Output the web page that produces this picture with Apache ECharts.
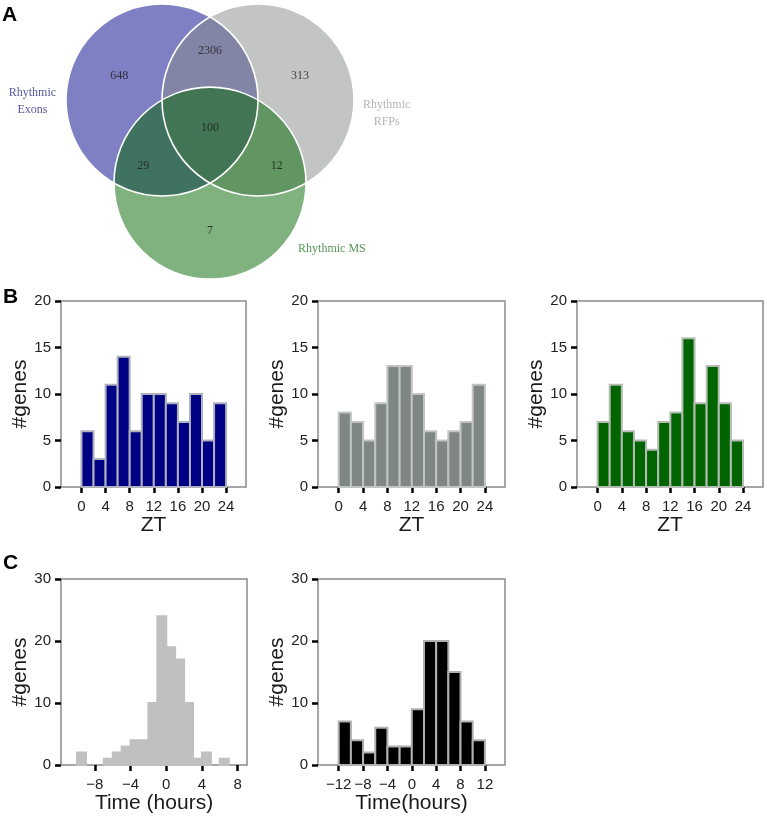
<!DOCTYPE html>
<html>
<head>
<meta charset="utf-8">
<script src="https://cdn.jsdelivr.net/npm/echarts@6/dist/echarts.min.js"></script>
<style>
html, body { margin: 0; padding: 0; background: #fff; }
#chart { width: 767px; height: 817px; }
</style>
</head>
<body>
<div id="chart"></div>
<script>
// ---- data ----
// A: venn of rhythmic sets
const vennSetNames = ['Rhythmic\nExons', 'Rhythmic\nRFPs', 'Rhythmic MS'];
// regions: Exons only, Exons&RFPs, RFPs only, all three, Exons&MS, RFPs&MS, MS only
const vennRegionCounts = [648, 2306, 313, 100, 29, 12, 7];

// B: peak phase histograms (2h bins over ZT)
const ztBinStart = [0, 2, 4, 6, 8, 10, 12, 14, 16, 18, 20, 22];
const ztTicks = [0, 4, 8, 12, 16, 20, 24];
const exonCounts = [6, 3, 11, 14, 6, 10, 10, 9, 7, 10, 5, 9];
const rfpCounts = [8, 7, 5, 9, 13, 13, 10, 6, 5, 6, 7, 11];
const msCounts = [7, 11, 6, 5, 4, 7, 8, 16, 9, 13, 9, 5];

// C left: phase difference, 1h bins
const lagBinStart = [-10, -9, -8, -7, -6, -5, -4, -3, -2, -1, 0, 1, 2, 3, 4, 5, 6];
const lagCounts = [2, 0, 0, 1, 2, 3, 4, 4, 10, 24, 19, 17, 10, 1, 2, 0, 1];
const lagTicks = [-8, -4, 0, 4, 8];

// C right: phase difference, 2h bins
const diffBinStart = [-12, -10, -8, -6, -4, -2, 0, 2, 4, 6, 8, 10];
const diffCounts = [7, 4, 2, 6, 3, 3, 9, 20, 20, 15, 7, 4];
const diffTicks = [-12, -8, -4, 0, 4, 8, 12];

// ---- venn layout (diagram units, radius 1) ----
const circleX = [-0.5, 0.5, 0];
const circleY = [0, 0, -0.866];
const circleFill = ['rgba(0,0,136,0.5)', 'rgba(136,140,140,0.5)', 'rgba(0,102,0,0.5)'];
const regionX = [-0.945, 0, 0.937, 0, -0.695, 0.695, 0];
const regionY = [0.253, 0.514, 0.253, -0.288, -0.684, -0.684, -1.365];
const setX = [-1.85, 1.84, 1.27];
const setY = [-0.015, -0.135, -1.55];
const setColor = ['#2c2c8a', '#a3a3a3', '#2a7a2a'];

const axisFont = 'Liberation Sans, Arial, sans-serif';
const minus = v => (v < 0 ? '\u2212' + (-v) : String(v));

const grids = [];
const xAxes = [];
const yAxes = [];
const series = [];

// venn grid, 96px per unit both ways
grids.push({ left: 18, top: 4, width: 384, height: 288, show: false });
xAxes.push({ gridIndex: 0, type: 'value', min: -2, max: 2, show: false });
yAxes.push({ gridIndex: 0, type: 'value', min: -2, max: 1, show: false });

const circleData = circleX.map((x, i) => [x, circleY[i], 1]);
function circleItem(params, api, style) {
    const c = api.coord([api.value(0), api.value(1)]);
    const r = api.size([api.value(2), 0])[0];
    return { type: 'circle', shape: { cx: c[0], cy: c[1], r: r }, style: style };
}
series.push({
    type: 'custom', xAxisIndex: 0, yAxisIndex: 0, silent: true,
    encode: { x: 0, y: 1 },
    data: circleData,
    renderItem: (params, api) => circleItem(params, api, { fill: circleFill[params.dataIndex] })
});
// white outlines drawn on top of all fills
series.push({
    type: 'custom', xAxisIndex: 0, yAxisIndex: 0, silent: true,
    encode: { x: 0, y: 1 },
    data: circleData,
    renderItem: (params, api) => circleItem(params, api, { fill: 'none', stroke: '#ffffff', lineWidth: 1.6 })
});
series.push({
    type: 'scatter', xAxisIndex: 0, yAxisIndex: 0, silent: true,
    symbolSize: 0,
    data: vennRegionCounts.map((n, i) => [regionX[i], regionY[i], n]),
    label: {
        show: true, position: 'inside', formatter: p => String(p.value[2]),
        fontFamily: 'Liberation Serif, Times New Roman, serif', fontSize: 12, color: '#1a1a1a'
    }
});
series.push({
    type: 'scatter', xAxisIndex: 0, yAxisIndex: 0, silent: true,
    symbolSize: 0,
    data: vennSetNames.map((s, i) => ({
        value: [setX[i], setY[i]], name: s,
        label: { color: setColor[i] }
    })),
    label: {
        show: true, position: 'inside', formatter: p => p.name, align: 'center',
        fontFamily: 'Liberation Serif, Times New Roman, serif', fontSize: 12, lineHeight: 17
    }
});

// histogram panels
function addHist(box, xMin, xMax, yMax, yStep, starts, width, counts, ticks, fill, edge, edgeWidth, xName, xNameGap) {
    const gi = grids.length;
    grids.push({
        left: box[0], top: box[1], width: box[2], height: box[3],
        show: true, borderColor: '#8a8a8a', borderWidth: 1.5, backgroundColor: 'transparent'
    });
    xAxes.push({
        gridIndex: gi, type: 'value', min: xMin, max: xMax,
        name: xName, nameLocation: 'middle', nameGap: xNameGap,
        nameTextStyle: { fontFamily: axisFont, fontSize: 21, color: '#1a1a1a' },
        axisLine: { show: false, onZero: false },
        axisTick: { show: true, length: 6, customValues: ticks, lineStyle: { color: '#000', width: 2.5 } },
        axisLabel: {
            customValues: ticks, formatter: minus, margin: 12,
            fontFamily: axisFont, fontSize: 15, color: '#222'
        },
        splitLine: { show: false }
    });
    yAxes.push({
        gridIndex: gi, type: 'value', min: 0, max: yMax, interval: yStep,
        name: '#genes', nameLocation: 'middle', nameGap: 25,
        nameTextStyle: { fontFamily: axisFont, fontSize: 21, color: '#1a1a1a' },
        axisLine: { show: false, onZero: false },
        axisTick: { show: true, length: 6, lineStyle: { color: '#000', width: 2.5 } },
        axisLabel: { margin: 10, fontFamily: axisFont, fontSize: 15, color: '#222' },
        splitLine: { show: false }
    });
    series.push({
        type: 'custom', xAxisIndex: gi, yAxisIndex: gi, silent: true,
        encode: { x: [0, 1], y: 2 },
        data: starts.map((s, i) => [s, s + width, counts[i]]),
        renderItem: (params, api) => {
            if (!api.value(2)) return null;
            const p0 = api.coord([api.value(0), 0]);
            const p1 = api.coord([api.value(1), api.value(2)]);
            return {
                type: 'rect',
                shape: { x: p0[0], y: p1[1], width: p1[0] - p0[0], height: p0[1] - p1[1] },
                style: { fill: fill, stroke: edge, lineWidth: edgeWidth }
            };
        }
    });
}

addHist([61, 301, 185, 186], -3.4, 27.3, 20, 5, ztBinStart, 2, exonCounts, ztTicks, '#000085', '#afb1bd', 2, 'ZT', 27);
addHist([318, 301, 187, 186], -3.4, 27.3, 20, 5, ztBinStart, 2, rfpCounts, ztTicks, '#7f8784', '#c2c4c4', 2, 'ZT', 27);
addHist([577, 301, 186, 186], -3.4, 27.3, 20, 5, ztBinStart, 2, msCounts, ztTicks, '#006400', '#b4bcb4', 2, 'ZT', 27);
addHist([61, 579, 186, 186], -11.8, 9.05, 30, 10, lagBinStart, 1, lagCounts, lagTicks, '#c0c0c0', '#c0c0c0', 2, 'Time (hours)', 21);
addHist([318, 579, 187, 186], -15.4, 15.3, 30, 10, diffBinStart, 2, diffCounts, diffTicks, '#000000', '#b0b0b0', 2, 'Time(hours)', 21);

const letterStyle = { fontFamily: axisFont, fontSize: 21, fontWeight: 'bold', fill: '#000' };
const chart = echarts.init(document.getElementById('chart'), null, { renderer: 'canvas' });
chart.setOption({
    animation: false,
    backgroundColor: '#ffffff',
    grid: grids,
    xAxis: xAxes,
    yAxis: yAxes,
    series: series,
    graphic: [
        { type: 'text', left: 2, top: 5, style: Object.assign({ text: 'A' }, letterStyle) },
        { type: 'text', left: 3, top: 287, style: Object.assign({ text: 'B' }, letterStyle) },
        { type: 'text', left: 3, top: 553, style: Object.assign({ text: 'C' }, letterStyle) }
    ]
});
</script>
</body>
</html>
